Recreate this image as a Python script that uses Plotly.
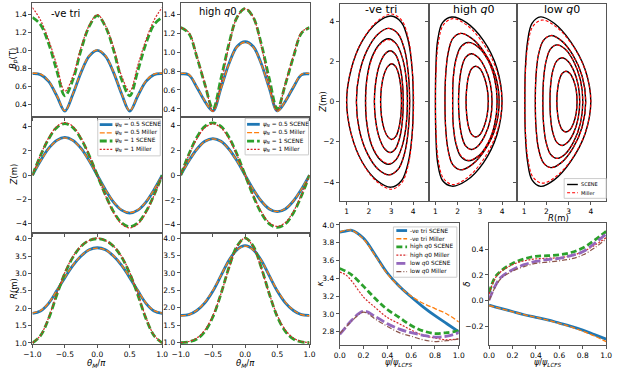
import plotly.graph_objects as go

W, H = 617, 369

theta = [-1, -0.875, -0.75, -0.625, -0.5, -0.375, -0.25, -0.125, 0,
         0.125, 0.25, 0.375, 0.5, 0.625, 0.75, 0.875, 1]

# -ve tri case
bp_neg_05_scene = [0.745, 0.735, 0.66, 0.50, 0.33, 0.52, 0.76, 0.94, 1.005, 0.94, 0.76, 0.52, 0.33, 0.50, 0.66, 0.735, 0.745]
bp_neg_05_miller = [0.75, 0.74, 0.665, 0.505, 0.335, 0.525, 0.765, 0.945, 1.01, 0.945, 0.765, 0.525, 0.335, 0.505, 0.665, 0.74, 0.75]
bp_neg_1_scene = [1.37, 1.29, 1.08, 0.78, 0.50, 0.68, 1.01, 1.27, 1.39, 1.27, 1.01, 0.68, 0.50, 0.78, 1.08, 1.29, 1.37]
bp_neg_1_miller = [1.48, 1.34, 1.12, 0.84, 0.55, 0.72, 1.04, 1.28, 1.40, 1.28, 1.04, 0.72, 0.55, 0.84, 1.12, 1.34, 1.48]

z_neg_05_scene = [0, 1.19, 2.21, 2.88, 3.12, 2.88, 2.21, 1.19, 0, -1.19, -2.21, -2.88, -3.12, -2.88, -2.21, -1.19, 0]
z_neg_05_miller = [0, 1.18, 2.18, 2.85, 3.08, 2.85, 2.18, 1.18, 0, -1.18, -2.18, -2.85, -3.08, -2.85, -2.18, -1.18, 0]
z_neg_1_scene = [0, 1.63, 3.00, 3.93, 4.25, 3.93, 3.00, 1.63, 0, -1.63, -3.00, -3.93, -4.25, -3.93, -3.00, -1.63, 0]
z_neg_1_miller = [0, 1.67, 3.08, 4.02, 4.35, 4.02, 3.08, 1.67, 0, -1.67, -3.08, -4.02, -4.35, -4.02, -3.08, -1.67, 0]

r_neg_05_scene = [1.85, 1.92, 2.14, 2.50, 2.88, 3.23, 3.50, 3.68, 3.74, 3.68, 3.50, 3.23, 2.88, 2.50, 2.14, 1.92, 1.85]
r_neg_05_miller = [1.86, 1.93, 2.15, 2.51, 2.89, 3.24, 3.51, 3.68, 3.73, 3.68, 3.51, 3.24, 2.89, 2.51, 2.15, 1.93, 1.86]
r_neg_1_scene = [1.0, 1.21, 1.70, 2.38, 3.00, 3.47, 3.78, 3.95, 4.0, 3.95, 3.78, 3.47, 3.00, 2.38, 1.70, 1.21, 1.0]
r_neg_1_miller = [1.0, 1.22, 1.73, 2.41, 3.03, 3.49, 3.79, 3.95, 4.02, 3.95, 3.79, 3.49, 3.03, 2.41, 1.73, 1.22, 1.0]

# high q0 case
bp_hi_05_scene = [0.77, 0.76, 0.63, 0.48, 0.38, 0.62, 0.88, 1.06, 1.11, 1.06, 0.88, 0.62, 0.38, 0.48, 0.63, 0.76, 0.77]
bp_hi_05_miller = [0.775, 0.765, 0.635, 0.485, 0.375, 0.615, 0.875, 1.055, 1.105, 1.055, 0.875, 0.615, 0.375, 0.485, 0.635, 0.765, 0.775]
bp_hi_1_scene = [1.26, 1.20, 0.95, 0.66, 0.40, 0.72, 1.09, 1.37, 1.46, 1.37, 1.09, 0.72, 0.40, 0.66, 0.95, 1.20, 1.26]
bp_hi_1_miller = [1.26, 1.21, 0.96, 0.67, 0.38, 0.67, 1.07, 1.37, 1.46, 1.37, 1.07, 0.67, 0.38, 0.67, 0.96, 1.21, 1.26]

z_hi_05_scene = [0, 1.13, 2.08, 2.72, 2.94, 2.72, 2.08, 1.13, 0, -1.13, -2.08, -2.72, -2.94, -2.72, -2.08, -1.13, 0]
z_hi_05_miller = [0, 1.12, 2.06, 2.70, 2.92, 2.70, 2.06, 1.12, 0, -1.12, -2.06, -2.70, -2.92, -2.70, -2.06, -1.12, 0]
z_hi_1_scene = [0, 1.66, 3.04, 3.92, 4.20, 3.92, 3.04, 1.66, 0, -1.66, -3.04, -3.92, -4.20, -3.92, -3.04, -1.66, 0]
z_hi_1_miller = [0, 1.58, 2.91, 3.81, 4.12, 3.81, 2.91, 1.58, 0, -1.58, -2.91, -3.81, -4.12, -3.81, -2.91, -1.58, 0]

r_hi_05_scene = [1.78, 1.80, 1.92, 2.14, 2.48, 2.92, 3.36, 3.67, 3.78, 3.67, 3.36, 2.92, 2.48, 2.14, 1.92, 1.80, 1.78]
r_hi_05_miller = [1.77, 1.80, 1.93, 2.16, 2.50, 2.93, 3.36, 3.66, 3.77, 3.66, 3.36, 2.93, 2.50, 2.16, 1.93, 1.80, 1.77]
r_hi_1_scene = [1.0, 1.02, 1.10, 1.32, 1.74, 2.40, 3.16, 3.77, 4.0, 3.77, 3.16, 2.40, 1.74, 1.32, 1.10, 1.02, 1.0]
r_hi_1_miller = [1.0, 1.03, 1.13, 1.36, 1.78, 2.40, 3.14, 3.75, 4.0, 3.75, 3.14, 2.40, 1.78, 1.36, 1.13, 1.03, 1.0]

# other flux surfaces (same theta grid)
r_neg_s2 = [1.44, 1.57, 1.93, 2.42, 2.90, 3.32, 3.61, 3.78, 3.84, 3.78, 3.61, 3.32, 2.90, 2.42, 1.93, 1.57, 1.44]
z_neg_s2 = [0, 1.39, 2.57, 3.36, 3.64, 3.36, 2.57, 1.39, 0, -1.39, -2.57, -3.36, -3.64, -3.36, -2.57, -1.39, 0]
r_neg_s4 = [2.25, 2.31, 2.47, 2.71, 2.96, 3.20, 3.39, 3.51, 3.55, 3.51, 3.39, 3.20, 2.96, 2.71, 2.47, 2.31, 2.25]
z_neg_s4 = [0, 0.97, 1.79, 2.34, 2.53, 2.34, 1.79, 0.97, 0, -0.97, -1.79, -2.34, -2.53, -2.34, -1.79, -0.97, 0]
r_neg_s5 = [2.53, 2.57, 2.68, 2.85, 3.03, 3.21, 3.35, 3.44, 3.47, 3.44, 3.35, 3.21, 3.03, 2.85, 2.68, 2.57, 2.53]
z_neg_s5 = [0, 0.72, 1.33, 1.74, 1.88, 1.74, 1.33, 0.72, 0, -0.72, -1.33, -1.74, -1.88, -1.74, -1.33, -0.72, 0]

r_hi_s2 = [1.43, 1.46, 1.57, 1.78, 2.14, 2.65, 3.23, 3.70, 3.87, 3.70, 3.23, 2.65, 2.14, 1.78, 1.57, 1.46, 1.43]
z_hi_s2 = [0, 1.30, 2.40, 3.13, 3.39, 3.13, 2.40, 1.30, 0, -1.30, -2.40, -3.13, -3.39, -3.13, -2.40, -1.30, 0]
r_hi_s4 = [2.04, 2.08, 2.18, 2.36, 2.61, 2.92, 3.23, 3.47, 3.55, 3.47, 3.23, 2.92, 2.61, 2.36, 2.18, 2.08, 2.04]
z_hi_s4 = [0, 0.91, 1.68, 2.20, 2.38, 2.20, 1.68, 0.91, 0, -0.91, -1.68, -2.20, -2.38, -2.20, -1.68, -0.91, 0]
r_hi_s5 = [2.38, 2.41, 2.49, 2.63, 2.81, 3.01, 3.19, 3.33, 3.38, 3.33, 3.19, 3.01, 2.81, 2.63, 2.49, 2.41, 2.38]
z_hi_s5 = [0, 0.67, 1.24, 1.63, 1.76, 1.63, 1.24, 0.67, 0, -0.67, -1.24, -1.63, -1.76, -1.63, -1.24, -0.67, 0]

r_lo_s1_scene = [1.03, 1.05, 1.15, 1.35, 1.74, 2.35, 3.09, 3.74, 4.0, 3.74, 3.09, 2.35, 1.74, 1.35, 1.15, 1.05, 1.03]
z_lo_s1_scene = [0, 1.61, 2.98, 3.89, 4.21, 3.89, 2.98, 1.61, 0, -1.61, -2.98, -3.89, -4.21, -3.89, -2.98, -1.61, 0]
r_lo_s1_miller = [1.03, 1.06, 1.17, 1.39, 1.80, 2.41, 3.14, 3.75, 4.0, 3.75, 3.14, 2.41, 1.80, 1.39, 1.17, 1.06, 1.03]
z_lo_s1_miller = [0, 1.55, 2.86, 3.74, 4.05, 3.74, 2.86, 1.55, 0, -1.55, -2.86, -3.74, -4.05, -3.74, -2.86, -1.55, 0]
r_lo_s2 = [1.50, 1.53, 1.64, 1.86, 2.20, 2.67, 3.19, 3.61, 3.77, 3.61, 3.19, 2.67, 2.20, 1.86, 1.64, 1.53, 1.50]
z_lo_s2 = [0, 1.26, 2.32, 3.03, 3.28, 3.03, 2.32, 1.26, 0, -1.26, -2.32, -3.03, -3.28, -3.03, -2.32, -1.26, 0]
r_lo_s3 = [1.84, 1.87, 1.98, 2.18, 2.47, 2.84, 3.23, 3.53, 3.64, 3.53, 3.23, 2.84, 2.47, 2.18, 1.98, 1.87, 1.84]
z_lo_s3 = [0, 1.08, 1.99, 2.61, 2.82, 2.61, 1.99, 1.08, 0, -1.08, -1.99, -2.61, -2.82, -2.61, -1.99, -1.08, 0]
r_lo_s4 = [2.16, 2.19, 2.29, 2.46, 2.70, 2.97, 3.23, 3.43, 3.50, 3.43, 3.23, 2.97, 2.70, 2.46, 2.29, 2.19, 2.16]
z_lo_s4 = [0, 0.83, 1.54, 2.01, 2.18, 2.01, 1.54, 0.83, 0, -0.83, -1.54, -2.01, -2.18, -2.01, -1.54, -0.83, 0]
r_lo_s5 = [2.47, 2.50, 2.58, 2.71, 2.88, 3.06, 3.22, 3.34, 3.38, 3.34, 3.22, 3.06, 2.88, 2.71, 2.58, 2.50, 2.47]
z_lo_s5 = [0, 0.58, 1.07, 1.40, 1.51, 1.40, 1.07, 0.58, 0, -0.58, -1.07, -1.40, -1.51, -1.40, -1.07, -0.58, 0]

# shaping profiles
psi = [0, 0.05, 0.1, 0.2, 0.3, 0.4, 0.5, 0.6, 0.7, 0.8, 0.9, 1.0]
kappa_neg_scene = [3.92, 3.93, 3.94, 3.85, 3.66, 3.46, 3.31, 3.19, 3.08, 2.98, 2.89, 2.80]
kappa_neg_miller = [3.92, 3.94, 3.94, 3.84, 3.65, 3.45, 3.31, 3.20, 3.12, 3.06, 3.00, 2.91]
kappa_hi_scene = [3.51, 3.48, 3.44, 3.31, 3.17, 3.05, 2.96, 2.87, 2.81, 2.78, 2.79, 2.81]
kappa_hi_miller = [3.47, 3.44, 3.37, 3.19, 3.07, 2.96, 2.89, 2.82, 2.76, 2.73, 2.71, 2.72]
kappa_lo_scene = [2.77, 2.85, 2.93, 3.03, 2.97, 2.89, 2.83, 2.79, 2.76, 2.74, 2.75, 2.79]
kappa_lo_miller = [2.78, 2.85, 2.92, 3.02, 2.94, 2.86, 2.79, 2.75, 2.71, 2.69, 2.70, 2.72]

delta_neg_scene = [-0.035, -0.048, -0.06, -0.085, -0.11, -0.13, -0.15, -0.175, -0.20, -0.23, -0.265, -0.30]
delta_neg_miller = [-0.04, -0.05, -0.062, -0.087, -0.11, -0.13, -0.152, -0.178, -0.205, -0.238, -0.275, -0.32]
delta_hi_scene = [0.06, 0.18, 0.23, 0.29, 0.325, 0.345, 0.35, 0.357, 0.375, 0.41, 0.47, 0.54]
delta_hi_miller = [0.05, 0.17, 0.225, 0.28, 0.31, 0.325, 0.33, 0.335, 0.35, 0.38, 0.43, 0.49]
delta_lo_scene = [0.005, 0.11, 0.18, 0.24, 0.28, 0.305, 0.32, 0.33, 0.35, 0.38, 0.445, 0.52]
delta_lo_miller = [0.0, 0.10, 0.17, 0.23, 0.265, 0.29, 0.30, 0.31, 0.325, 0.355, 0.41, 0.48]

BLUE, ORANGE, GREEN, RED = '#1f77b4', '#ff7f0e', '#2ca02c', '#d62728'
PURPLE, BROWN = '#9467bd', '#8c564b'

s05 = dict(color=BLUE, width=2.8)
m05 = dict(color=ORANGE, width=1.3, dash='5px,2px')
s1 = dict(color=GREEN, width=2.8, dash='7px,3px')
m1 = dict(color=RED, width=1.2, dash='2px,1.5px')


def px(x):
    return x / W


def py(y):
    return 1 - y / H


fig = go.Figure()


def line(x, y, n, sty):
    fig.add_trace(go.Scatter(x=x, y=y, mode='lines', xaxis='x%d' % n, yaxis='y%d' % n,
                             line=dict(shape='spline', **sty), showlegend=False, hoverinfo='skip'))


left = [
    (1, [bp_neg_05_scene, bp_neg_05_miller, bp_neg_1_scene, bp_neg_1_miller]),
    (2, [bp_hi_05_scene, bp_hi_05_miller, bp_hi_1_scene, bp_hi_1_miller]),
    (3, [z_neg_05_scene, z_neg_05_miller, z_neg_1_scene, z_neg_1_miller]),
    (4, [z_hi_05_scene, z_hi_05_miller, z_hi_1_scene, z_hi_1_miller]),
    (5, [r_neg_05_scene, r_neg_05_miller, r_neg_1_scene, r_neg_1_miller]),
    (6, [r_hi_05_scene, r_hi_05_miller, r_hi_1_scene, r_hi_1_miller]),
]
for n, series in left:
    for ys, sty in zip(series, [s05, m05, s1, m1]):
        line(theta, ys, n, sty)

panels = [
    (7, [(r_neg_1_scene, z_neg_1_scene, r_neg_1_miller, z_neg_1_miller),
         (r_neg_s2, z_neg_s2, r_neg_s2, z_neg_s2),
         (r_neg_05_scene, z_neg_05_scene, r_neg_05_miller, z_neg_05_miller),
         (r_neg_s4, z_neg_s4, r_neg_s4, z_neg_s4),
         (r_neg_s5, z_neg_s5, r_neg_s5, z_neg_s5)]),
    (8, [(r_hi_1_scene, z_hi_1_scene, r_hi_1_miller, z_hi_1_miller),
         (r_hi_s2, z_hi_s2, r_hi_s2, z_hi_s2),
         (r_hi_05_scene, z_hi_05_scene, r_hi_05_miller, z_hi_05_miller),
         (r_hi_s4, z_hi_s4, r_hi_s4, z_hi_s4),
         (r_hi_s5, z_hi_s5, r_hi_s5, z_hi_s5)]),
    (9, [(r_lo_s1_scene, z_lo_s1_scene, r_lo_s1_miller, z_lo_s1_miller),
         (r_lo_s2, z_lo_s2, r_lo_s2, z_lo_s2),
         (r_lo_s3, z_lo_s3, r_lo_s3, z_lo_s3),
         (r_lo_s4, z_lo_s4, r_lo_s4, z_lo_s4),
         (r_lo_s5, z_lo_s5, r_lo_s5, z_lo_s5)]),
]
blk = dict(color='black', width=1.4)
mil = dict(color='red', width=1.1, dash='3px,2px')
for n, surfs in panels:
    for rs, zs, rm, zm in surfs:
        line(rs, zs, n, blk)
    for rs, zs, rm, zm in surfs:
        line(rm, zm, n, mil)

prof_sty = [
    dict(color=BLUE, width=2.8),
    dict(color=ORANGE, width=1.3, dash='5px,2px'),
    dict(color=GREEN, width=2.8, dash='6px,3px'),
    dict(color=RED, width=1.2, dash='2px,1.5px'),
    dict(color=PURPLE, width=2.8, dash='9px,3px'),
    dict(color=BROWN, width=1.2, dash='5px,2px,1px,2px'),
]
for ys, sty in zip([kappa_neg_scene, kappa_neg_miller, kappa_hi_scene, kappa_hi_miller,
                    kappa_lo_scene, kappa_lo_miller], prof_sty):
    line(psi, ys, 10, sty)
for ys, sty in zip([delta_neg_scene, delta_neg_miller, delta_hi_scene, delta_hi_miller,
                    delta_lo_scene, delta_lo_miller], prof_sty):
    line(psi, ys, 11, sty)

# axes
lay = {}
base = dict(showline=True, mirror=True, linecolor='#555', linewidth=1, ticks='outside',
            ticklen=3, tickwidth=1, tickcolor='#555', showgrid=False, zeroline=False,
            tickfont=dict(size=7.5, color='black'))


def axes(n, xd, yd, xr, yr, xt, yt, xf, yf, xlab=True, ylab=True):
    lay['xaxis%d' % n] = dict(base, domain=[px(xd[0]), px(xd[1])], range=xr, tickvals=xt,
                              tickformat=xf, showticklabels=xlab, anchor='y%d' % n)
    lay['yaxis%d' % n] = dict(base, domain=[py(yd[1]), py(yd[0])], range=yr, tickvals=yt,
                              tickformat=yf, showticklabels=ylab, anchor='x%d' % n)


tx = [-1, -0.5, 0, 0.5, 1]
c1, c2 = (24, 157), (176, 308)
r1, r2, r3 = (1, 117), (117, 234), (234, 347)
bpt = [0.4, 0.6, 0.8, 1.0, 1.2, 1.4]
zt = [-4, -2, 0, 2, 4]
rt = [1.0, 1.5, 2.0, 2.5, 3.0, 3.5, 4.0]
axes(1, c1, r1, [-1, 1], [0.26, 1.53], tx, bpt, '.1f', '.1f', xlab=False)
axes(2, c2, r1, [-1, 1], [0.31, 1.52], tx, bpt, '.1f', '.1f', xlab=False)
axes(3, c1, r2, [-1, 1], [-4.75, 4.77], tx, zt, '.1f', 'd', xlab=False)
axes(4, c2, r2, [-1, 1], [-4.64, 4.64], tx, zt, '.1f', 'd', xlab=False)
axes(5, c1, r3, [-1, 1], [0.96, 4.17], tx, rt, '.1f', '.1f')
axes(6, c2, r3, [-1, 1], [0.95, 4.15], tx, rt, '.1f', '.1f')
for n, xd in [(7, (339, 430)), (8, (430, 521)), (9, (521, 612))]:
    axes(n, xd, (2, 202), [0.69, 4.69], [-4.95, 4.85], [1, 2, 3, 4], zt, 'd', 'd', ylab=(n == 7))
pt = [0, 0.2, 0.4, 0.6, 0.8, 1.0]
axes(10, (339, 461), (224, 348), [0, 1], [2.648, 4.022], pt,
     [2.8, 3.0, 3.2, 3.4, 3.6, 3.8, 4.0], '.1f', '.1f')
axes(11, (492, 612), (224, 348), [0, 1], [-0.348, 0.605], pt, [-0.2, 0.0, 0.2, 0.4], '.1f', '.1f')
lay['xaxis'] = lay.pop('xaxis1')
lay['yaxis'] = lay.pop('yaxis1')
lay['xaxis']['anchor'] = 'y'
lay['yaxis']['anchor'] = 'x'

fig.update_layout(width=W, height=H, margin=dict(l=0, r=0, t=0, b=0),
                  paper_bgcolor='white', plot_bgcolor='white',
                  font=dict(family='DejaVu Sans', size=8, color='black'), **lay)


def text(x, y, s, size, angle=0, xanchor='center', yanchor='middle'):
    fig.add_annotation(x=px(x), y=py(y), xref='paper', yref='paper', text=s, showarrow=False,
                       textangle=angle, font=dict(size=size), xanchor=xanchor, yanchor=yanchor)


text(5, 57, '<i>B<sub>p</sub></i>(T)', 8.5, -90)
text(5, 175, '<i>Z</i>(m)', 8.5, -90)
text(5, 290, '<i>R</i>(m)', 8.5, -90)
text(90, 366, '<i>θ<sub>M</sub></i>/<i>π</i>', 8.5)
text(242, 366, '<i>θ<sub>M</sub></i>/<i>π</i>', 8.5)
text(58, 12, '-ve tri', 10)
text(214, 10, 'high <i>q</i>0', 10)
text(381, 8, '-ve tri', 11)
text(476, 8, 'high <i>q</i>0', 11)
text(567, 8, 'low <i>q</i>0', 11)
text(321, 101, '<i>Z</i>(m)', 8.5, -90)
text(563, 219, '<i>R</i>(m)', 8.5)
text(319, 286, '<i>κ</i>', 8.5, -90)
text(470, 286, '<i>δ</i>', 8.5, -90)
text(400, 358.5, '<i>ψ</i>/<i>ψ<sub>LCFS</sub></i>', 8, yanchor='top')
text(552, 358.5, '<i>ψ</i>/<i>ψ<sub>LCFS</sub></i>', 8, yanchor='top')


def legend(box, lx, tx0, rows, items, size):
    fig.add_shape(type='rect', x0=px(box[0]), x1=px(box[1]), y0=py(box[3]), y1=py(box[2]),
                  xref='paper', yref='paper', fillcolor='white',
                  line=dict(color='#cccccc', width=1), layer='above')
    for yy, (label, sty) in zip(rows, items):
        fig.add_shape(type='line', x0=px(lx[0]), x1=px(lx[1]), y0=py(yy), y1=py(yy),
                      xref='paper', yref='paper', line=sty, layer='above')
        text(tx0, yy, label, size, xanchor='left')


psi_items = [('<i>ψ<sub>N</sub></i> = 0.5 SCENE', s05), ('<i>ψ<sub>N</sub></i> = 0.5 Miller', m05),
             ('<i>ψ<sub>N</sub></i> = 1 SCENE', s1), ('<i>ψ<sub>N</sub></i> = 1 Miller', m1)]
legend((91, 155, 119, 156), (93, 106), 107, [124.3, 132.7, 140.9, 149.3], psi_items, 5.8)
legend((242, 307, 118, 155), (244, 257), 258, [124, 132.5, 141, 149.3], psi_items, 5.8)
prof_names = ['-ve tri SCENE', '-ve tri Miller', 'high <i>q</i>0 SCENE', 'high <i>q</i>0 Miller',
              'low <i>q</i>0 SCENE', 'low <i>q</i>0 Miller']
legend((394, 459, 228, 279), (397, 408), 409, [231.7, 240, 248.3, 256.7, 265, 273.3],
       list(zip(prof_names, prof_sty)), 5.8)
legend((569, 612, 179, 199), (572, 583), 584, [185, 193.3],
       [('SCENE', blk), ('Miller', mil)], 5)

fig.write_html("out.html", config={'displayModeBar': False},
               post_script="document.body.style.margin='0px';document.body.style.overflow='hidden';")
